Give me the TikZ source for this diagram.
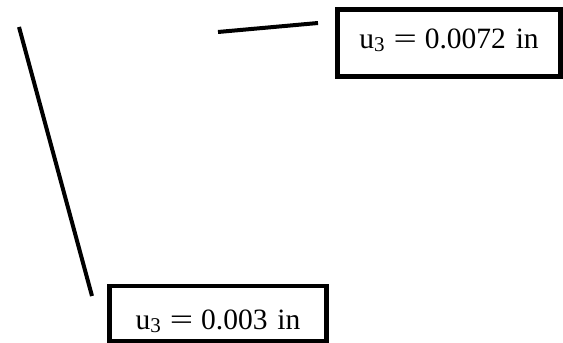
\documentclass[tikz,border=0pt]{standalone}
\usepackage{fontspec}
\setmainfont{Liberation Serif}
\newcommand{\usub}[1]{u\raisebox{-2.5pt}{\fontsize{21}{21}\selectfont #1}}
\newcommand{\weq}{\scalebox{1.4}[1]{=}}
\begin{document}
\begin{tikzpicture}[x=1pt,y=1pt,
  valbox/.style={draw=black, line width=4.5pt, inner sep=0pt, align=center,
    font=\fontsize{29.5}{29.5}\selectfont},
  lead/.style={draw=black, line width=4pt}]
\useasboundingbox (0,0) rectangle (563,343);
% box 1: x 337.5..560.5, y(img) 9.5..76.5 -> tikz y 333.5..266.5
\node[valbox, minimum width=223pt, text height=39.5pt, text depth=27.5pt, text width=215pt]
  (b1) at (449,300) {\usub{3}\hspace{9pt}\weq\hspace{8pt}0.0072 in\hspace*{5pt}};
% box 2: x 109.5..326.5, y(img) 286..341 -> tikz y 57..2
\node[valbox, minimum width=217pt, text height=44pt, text depth=11pt, text width=212pt]
  (b2) at (218,29.5) {\usub{3}\hspace{9pt}\weq\hspace{8pt}0.003 in};
\coordinate (l1a) at (19,316);
\coordinate (l1b) at (92,47);
\coordinate (l2a) at (218,311);
\coordinate (l2b) at (318,320);
\draw[lead] (l1a) -- (l1b);
\draw[lead] (l2a) -- (l2b);
\end{tikzpicture}
\end{document}
